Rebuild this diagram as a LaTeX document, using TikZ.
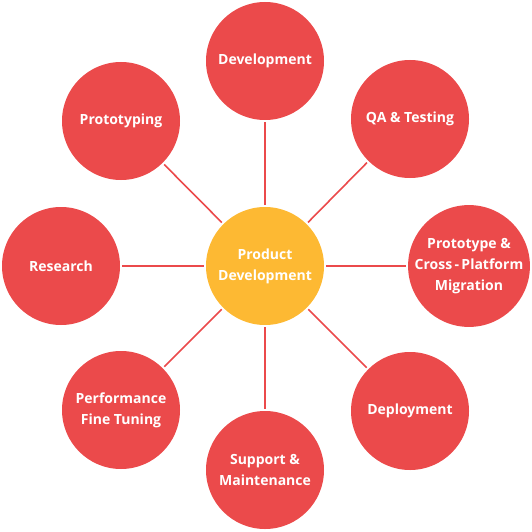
\documentclass[tikz,border=0pt]{standalone}
\usepackage{fontspec}
\setmainfont{Open Sans}
\definecolor{petal}{HTML}{EB4A4B}
\definecolor{hub}{HTML}{FDB933}
\tikzset{
  petal/.style={circle, fill=petal, minimum size=118pt, inner sep=0pt, text=white,
    font=\bfseries\fontsize{14}{21}\selectfont, align=center},
  hub/.style={petal, fill=hub},
  spoke/.style={draw=petal, line width=1.6pt, shorten <=2pt, shorten >=2pt}
}
\begin{document}
\begin{tikzpicture}[x=1pt,y=-1pt]
\useasboundingbox (0,0) rectangle (531,532);
\node[hub] (c) at (265,266) {Product\\Development};
\node[petal] (dev) at (265,61) {Development};
\node[petal] (qa) at (410,119) {QA \& Testing};
\node[petal] (mig) at (469,266) {Prototype \&\\Cross\,-\,Platform\\Migration};
\node[petal] (dep) at (410,411) {Deployment};
\node[petal] (sup) at (265,470) {Support \&\\Maintenance};
\node[petal] (perf) at (121,410) {Performance\\Fine Tuning};
\node[petal] (res) at (61,266) {Research};
\node[petal] (proto) at (121,121) {Prototyping};
\foreach \n in {dev,qa,mig,dep,sup,perf,res,proto}
  \draw[spoke] (c) -- (\n);
\end{tikzpicture}
\end{document}
